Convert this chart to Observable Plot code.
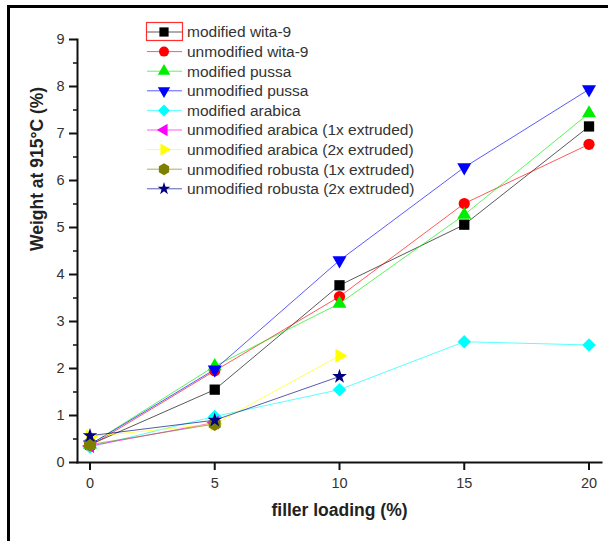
<!DOCTYPE html>
<html>
<head>
<meta charset="utf-8">
<script src="https://cdn.jsdelivr.net/npm/d3@7"></script>
<script src="https://cdn.jsdelivr.net/npm/@observablehq/plot@0.6"></script>
<style>
  html, body { margin: 0; padding: 0; background: #fff; }
  #wrap { position: relative; width: 608px; height: 541px; overflow: hidden; }
  #border { position: absolute; left: 7px; top: 5px; right: -10px; bottom: -10px;
            border-left: 3px solid #000; border-top: 3px solid #000; pointer-events: none; }
</style>
</head>
<body>
<div id="wrap"><div id="border"></div></div>
<script>
// ---- data ----
const loading = [0, 5, 10, 15, 20];
const modifiedWita9      = [0.38, 1.55, 3.77, 5.06, 7.15];
const unmodifiedWita9    = [0.35, 1.95, 3.53, 5.51, 6.77];
const modifiedPussa      = [0.38, 2.05, 3.38, 5.27, 7.43];
const unmodifiedPussa    = [0.38, 1.98, 4.30, 6.28, 7.94];
const modifiedArabica    = [0.33, 0.98, 1.55, 2.57, 2.50];
const unmodArabica1x     = [0.35, 0.85];
const unmodArabica2x     = [0.55, 0.82, 2.27];
const unmodRobusta1x     = [0.38, 0.82];
const unmodRobusta2x     = [0.57, 0.90, 1.83];

const seriesNames = [
  "modified wita-9", "unmodified wita-9", "modified pussa", "unmodified pussa",
  "modified arabica", "unmodified arabica (1x extruded)", "unmodified arabica (2x extruded)",
  "unmodified robusta (1x extruded)", "unmodified robusta (2x extruded)"
];
const seriesValues = [modifiedWita9, unmodifiedWita9, modifiedPussa, unmodifiedPussa,
  modifiedArabica, unmodArabica1x, unmodArabica2x, unmodRobusta1x, unmodRobusta2x];
const seriesColors = ["#000000", "#ff0000", "#00ee00", "#0000ff", "#00ffff",
  "#ff00ff", "#ffff00", "#808000", "#000080"];
const seriesSymbols = ["square", "circle", "triangle", "triangle", "square",
  "triangle", "triangle", "hexagon", "star"];
const seriesRotate = [0, 0, 0, 180, 45, -90, 90, 0, 0];
const seriesR = [5.8, 5.6, 5.2, 5.2, 5.4, 5.2, 5.2, 6, 4.6];

const xTicks = [0, 5, 10, 15, 20];
const yTicks = [0, 1, 2, 3, 4, 5, 6, 7, 8, 9];
const yMinorTicks = [0.5, 1.5, 2.5, 3.5, 4.5, 5.5, 6.5, 7.5, 8.5];
const xTitle = "filler loading (%)";
const yTitle = "Weight at 915°C (%)";

const series = seriesNames.map((name, i) => ({
  name, color: seriesColors[i], symbol: seriesSymbols[i], rotate: seriesRotate[i], r: seriesR[i],
  rows: seriesValues[i].map((v, j) => ({x: loading[j], y: v}))
}));

const font = "'Liberation Sans', Arial, sans-serif";

const marks = [
  Plot.axisY({ticks: yMinorTicks, tickSize: 4, text: null, label: null, stroke: "#111", strokeWidth: 1.5}),
  Plot.axisY({ticks: yTicks, tickSize: 8, tickPadding: 5, label: null, stroke: "#111", strokeWidth: 2, fill: "#333", fontSize: 14.5}),
  Plot.axisX({ticks: xTicks, tickSize: 8, tickPadding: 7, label: null, stroke: "#111", strokeWidth: 2, fill: "#333", fontSize: 14.5}),
  Plot.frame({anchor: "left", stroke: "#111", strokeWidth: 2}),
  Plot.frame({anchor: "bottom", stroke: "#111", strokeWidth: 2}),
  Plot.text([xTitle], {frameAnchor: "bottom", dy: 53, text: d => d, fontSize: 17.5, fontWeight: "bold", fill: "#222"}),
  Plot.text([yTitle], {frameAnchor: "left", dx: -40, rotate: -90, text: d => d, fontSize: 17.5, fontWeight: "bold", fill: "#222"})
];
for (const s of series) {
  marks.push(Plot.line(s.rows, {x: "x", y: "y", stroke: s.color, strokeWidth: 1, strokeOpacity: 0.65}));
}
for (const s of series) {
  marks.push(Plot.dot(s.rows, {x: "x", y: "y", fill: s.color, stroke: "none", symbol: s.symbol, r: s.r, rotate: s.rotate}));
}

const chart = Plot.plot({
  width: 608, height: 541,
  marginLeft: 77, marginRight: 7, marginTop: 39, marginBottom: 79,
  x: {domain: [-0.5, 20.5]},
  y: {domain: [0, 9]},
  style: {fontFamily: font, fontSize: "14px", color: "#333", background: "white", overflow: "visible"},
  marks
});

// ---- legend ----
const hexagonType = {draw(ctx, size) {
  const r = Math.sqrt(size / (1.5 * Math.sqrt(3)));
  for (let k = 0; k < 6; k++) { const a = Math.PI / 3 * k + Math.PI / 6;
    const px = r * Math.cos(a), py = r * Math.sin(a); k ? ctx.lineTo(px, py) : ctx.moveTo(px, py); }
  ctx.closePath(); }};
const symbolTypes = {square: d3.symbolSquare, circle: d3.symbolCircle, triangle: d3.symbolTriangle,
  hexagon: hexagonType, star: d3.symbolStar};
const svg = d3.select(chart);
const lg = svg.append("g").attr("font-family", font).attr("font-size", 15.5).attr("text-anchor", "start");
const rowY0 = 32, rowStep = 19.6, lineX0 = 147, lineX1 = 182, markX = 164, textX = 187;
series.forEach((s, i) => {
  const y = rowY0 + i * rowStep;
  lg.append("line").attr("x1", lineX0).attr("x2", lineX1).attr("y1", y).attr("y2", y)
    .attr("stroke", s.color).attr("stroke-opacity", 0.65);
  const size = Math.PI * (s.r - 0.6) * (s.r - 0.6);
  lg.append("path").attr("d", d3.symbol(symbolTypes[s.symbol], size)())
    .attr("transform", `translate(${markX},${y}) rotate(${s.rotate})`)
    .attr("fill", s.color);
  lg.append("text").attr("x", textX).attr("y", y).attr("dy", "0.35em").attr("fill", "#333").text(s.name);
});
lg.append("rect").attr("x", 146.5).attr("y", 22.5).attr("width", 36).attr("height", 18)
  .attr("fill", "none").attr("stroke", "#ff3030").attr("stroke-width", 1.2);

document.getElementById("wrap").insertBefore(chart, document.getElementById("border"));
</script>
</body>
</html>
